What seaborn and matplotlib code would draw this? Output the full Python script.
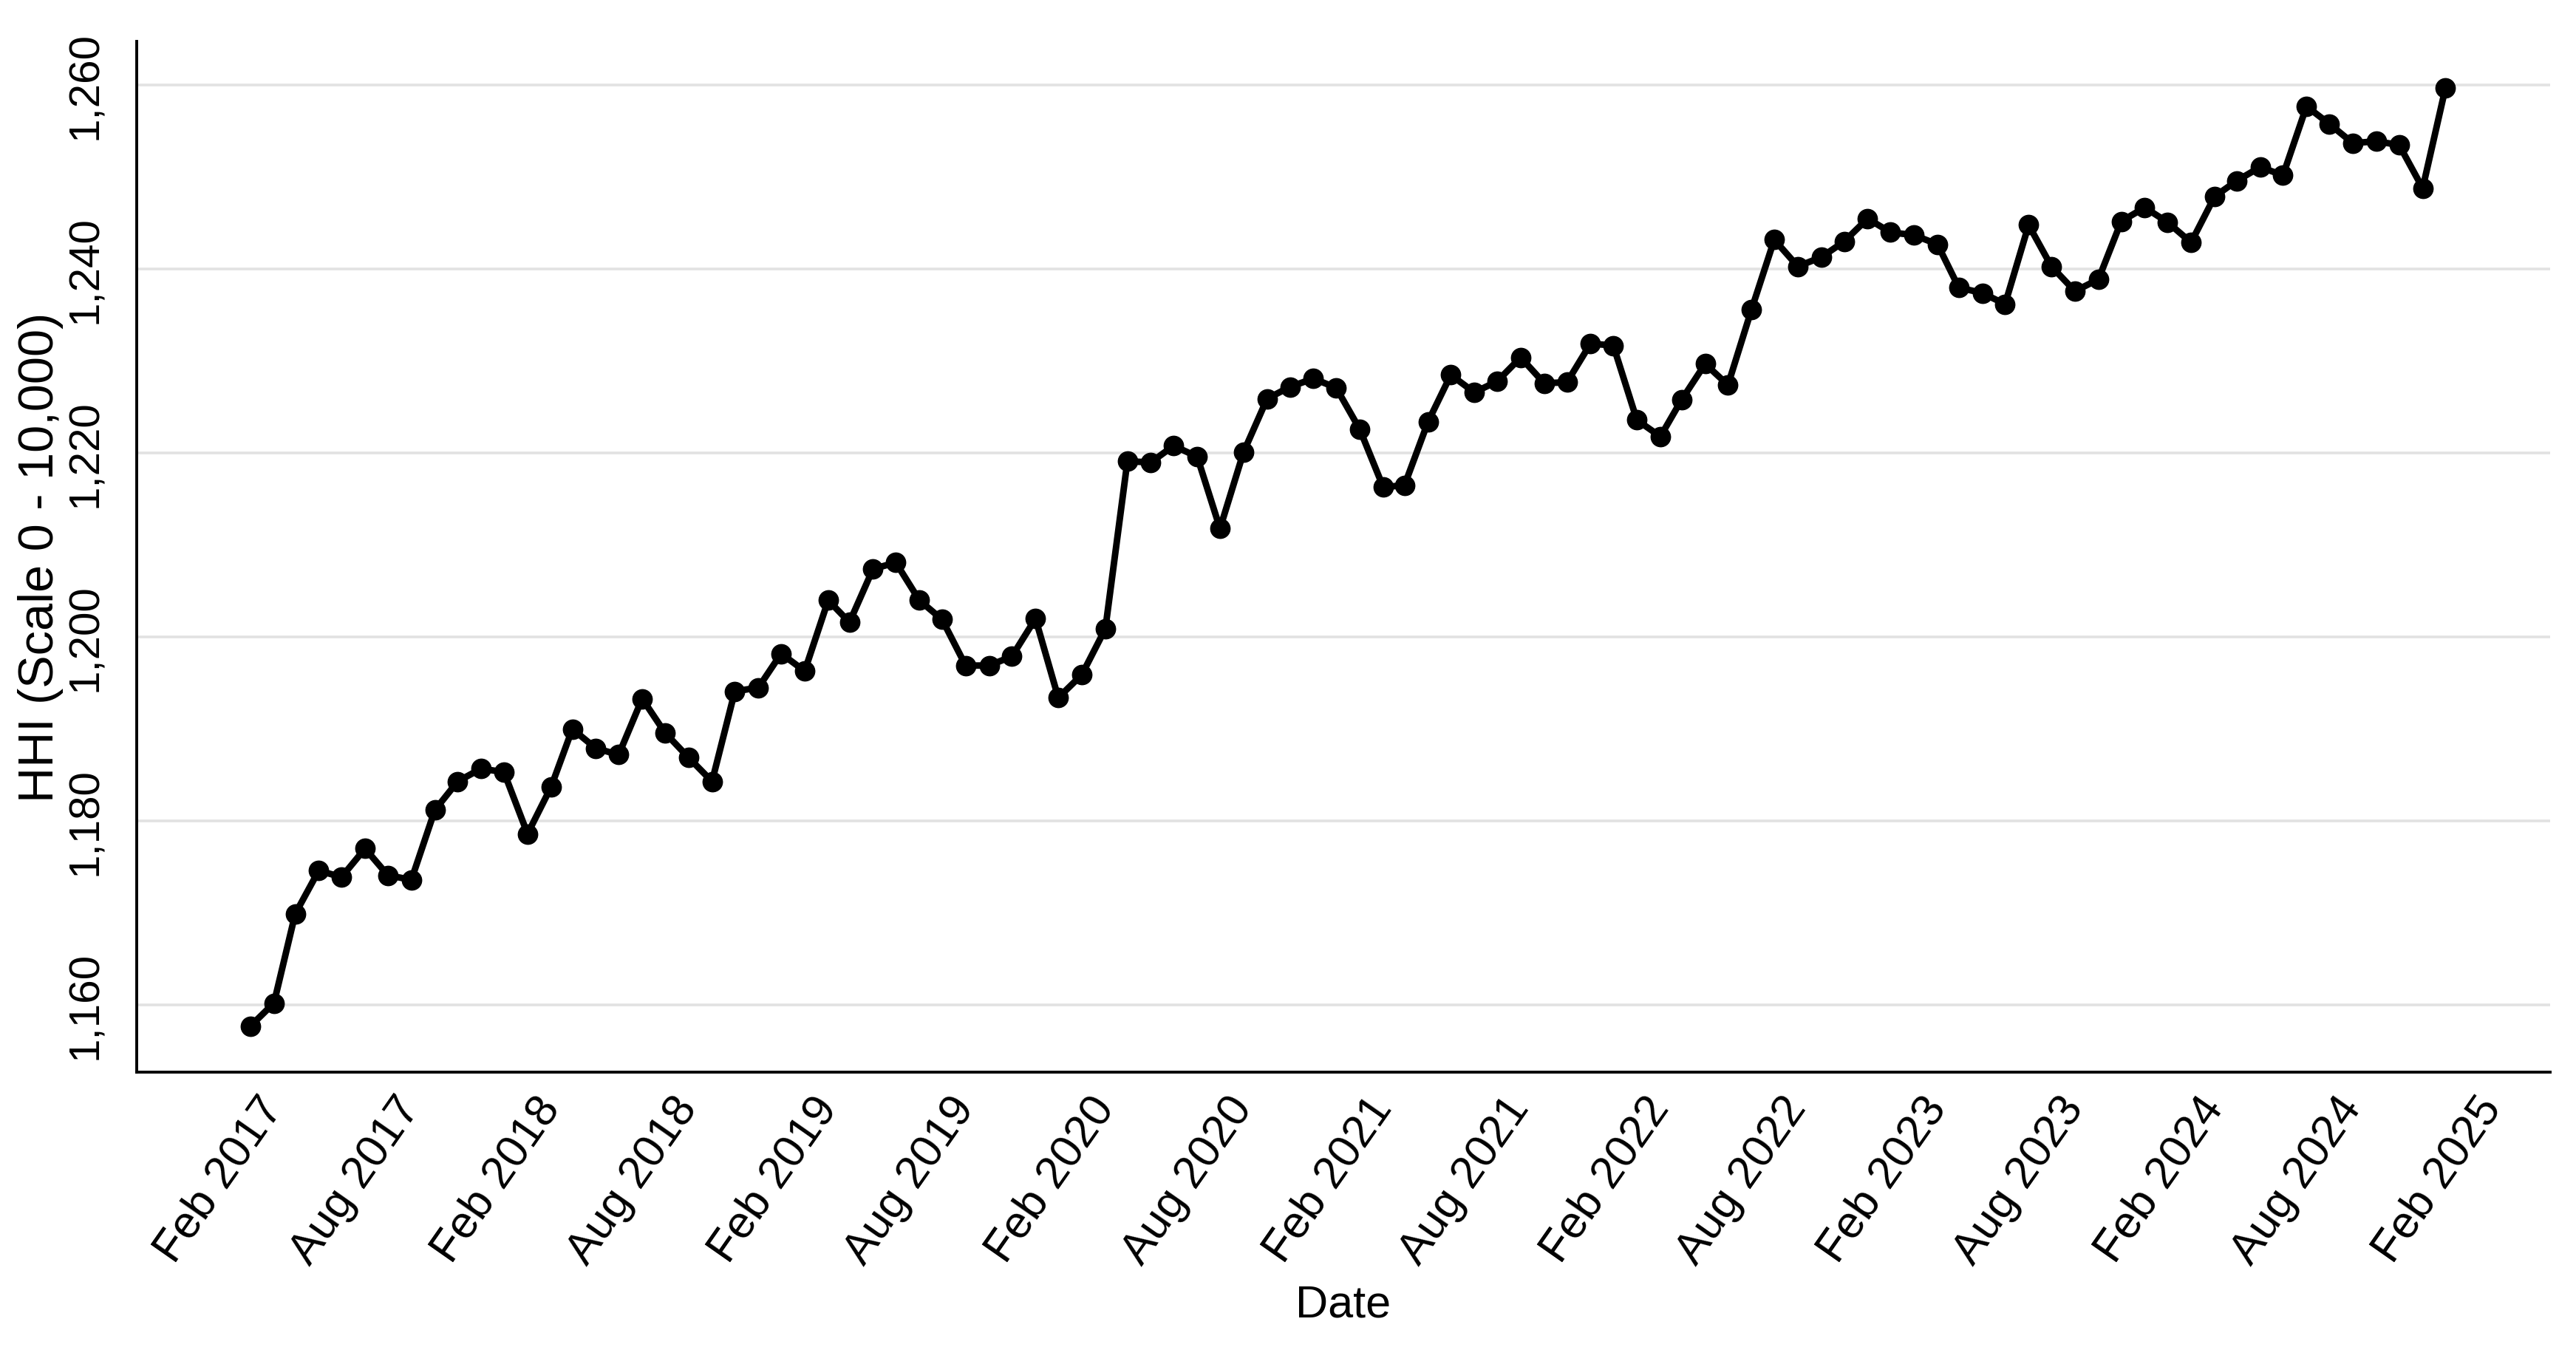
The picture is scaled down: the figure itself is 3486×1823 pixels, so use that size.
import matplotlib
matplotlib.use("Agg")
import matplotlib.pyplot as plt
import matplotlib.dates as mdates
import seaborn as sns
import pandas as pd

# monthly HHI values, Jan 2017 - Dec 2024
months = pd.date_range("2017-01-01", "2024-12-01", freq="MS")
hhi_2017 = [1157.7, 1160.2, 1169.9, 1174.6, 1173.9, 1177.0, 1174.1, 1173.6, 1181.2, 1184.3, 1185.7, 1185.3]
hhi_2018 = [1178.6, 1183.7, 1190.0, 1187.9, 1187.2, 1193.3, 1189.6, 1186.9, 1184.3, 1194.1, 1194.5, 1198.2]
hhi_2019 = [1196.3, 1204.0, 1201.6, 1207.4, 1208.1, 1204.0, 1201.9, 1196.9, 1196.9, 1197.9, 1202.0, 1193.4]
hhi_2020 = [1195.9, 1200.9, 1219.1, 1219.0, 1220.8, 1219.6, 1211.8, 1220.1, 1225.9, 1227.2, 1228.1, 1227.1]
hhi_2021 = [1222.6, 1216.3, 1216.5, 1223.4, 1228.5, 1226.6, 1227.8, 1230.4, 1227.6, 1227.7, 1231.9, 1231.7]
hhi_2022 = [1223.6, 1221.8, 1225.8, 1229.7, 1227.4, 1235.6, 1243.2, 1240.3, 1241.3, 1243.0, 1245.5, 1244.0]
hhi_2023 = [1243.7, 1242.7, 1238.0, 1237.4, 1236.2, 1244.8, 1240.3, 1237.6, 1238.9, 1245.2, 1246.7, 1245.1]
hhi_2024 = [1242.9, 1247.9, 1249.6, 1251.1, 1250.2, 1257.7, 1255.8, 1253.7, 1253.9, 1253.5, 1248.8, 1259.7]

hhi = hhi_2017 + hhi_2018 + hhi_2019 + hhi_2020 + hhi_2021 + hhi_2022 + hhi_2023 + hhi_2024
y_ticks = [1160, 1180, 1200, 1220, 1240, 1260]
x_ticks = pd.date_range("2017-02-01", "2025-02-01", freq="6MS")

df = pd.DataFrame({"Date": months, "HHI": hhi})

sns.set_theme(style="white")
plt.rcParams["font.family"] = ["Liberation Sans", "DejaVu Sans"]

fig, ax = plt.subplots(figsize=(17.43, 9.12), dpi=200)
fig.subplots_adjust(left=0.053, right=0.99, top=0.969, bottom=0.204)

sns.lineplot(
    data=df, x="Date", y="HHI", ax=ax,
    color="black", linewidth=3.2,
    marker="o", markersize=9.5, markeredgecolor="black", markeredgewidth=0.5,
)

# y axis, Stata-like: vertical tick labels, light horizontal grid
ax.set_ylim(1152.7, 1264.8)
ax.set_yticks(y_ticks)
ax.set_yticklabels([f"{v:,}" for v in y_ticks], rotation=90, va="center")
ax.yaxis.grid(True, color="#e2e2e2", linewidth=1.3)
ax.xaxis.grid(False)
ax.set_axisbelow(True)

# x axis every 6 months
ax.set_xlim(pd.Timestamp("2016-08-04"), pd.Timestamp("2025-04-18"))
ax.set_xticks(x_ticks)
ax.xaxis.set_major_formatter(mdates.DateFormatter("%b %Y"))

ax.tick_params(axis="both", which="major", direction="out",
               length=9, width=1.4, color="black", labelcolor="black")
ax.tick_params(axis="x", pad=5, labelsize=22)
ax.tick_params(axis="y", pad=6, labelsize=21)
plt.setp(ax.get_xticklabels(), rotation=55, ha="right", va="center", rotation_mode="anchor")

for side in ["top", "right"]:
    ax.spines[side].set_visible(False)
for side in ["left", "bottom"]:
    ax.spines[side].set_color("black")
    ax.spines[side].set_linewidth(1.4)

ax.set_xlabel("Date", fontsize=22, color="black", labelpad=6)
ax.set_ylabel("HHI (Scale 0 - 10,000)", fontsize=24, color="black", labelpad=1)

plt.savefig("out.png", dpi=200)
